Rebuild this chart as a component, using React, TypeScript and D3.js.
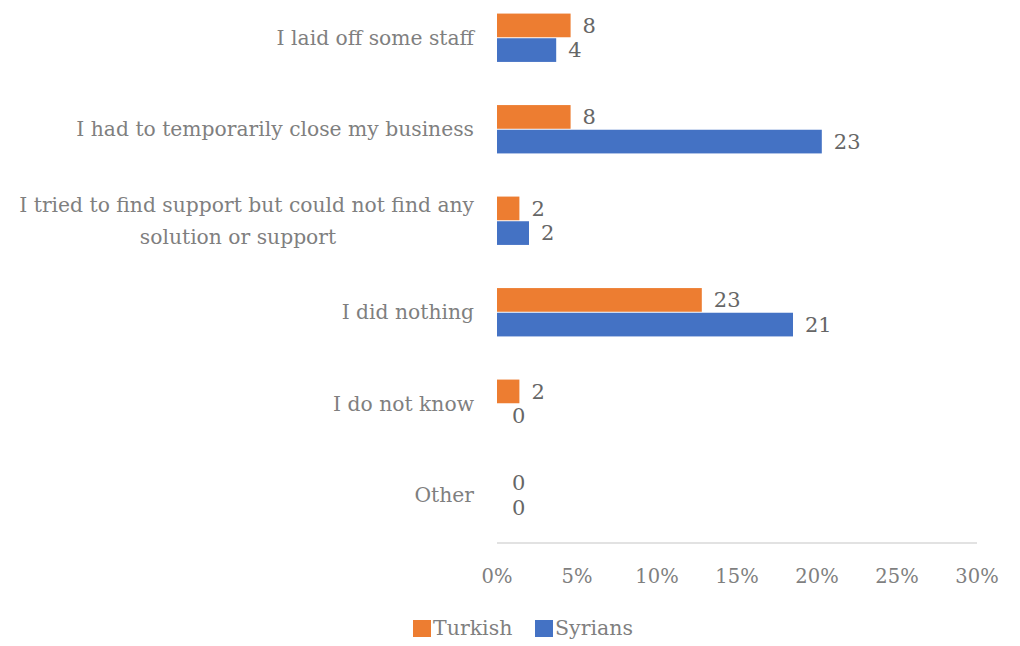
import React from "react";
import * as d3 from "d3";

const categories = [
  ["I laid off some staff"],
  ["I had to temporarily close my business"],
  ["I tried to find support but could not find any", "solution or support"],
  ["I did nothing"],
  ["I do not know"],
  ["Other"],
];
const seriesNames = ["Turkish", "Syrians"];
const turkishPct = [4.6, 4.6, 1.4, 12.8, 1.4, 0];
const syriansPct = [3.7, 20.3, 2.0, 18.5, 0, 0];
const turkishLabels = ["8", "8", "2", "23", "2", "0"];
const syriansLabels = ["4", "23", "2", "21", "0", "0"];
const xTicks = [0, 5, 10, 15, 20, 25, 30];
const colors = ["#ED7D31", "#4472C4"];

const W = 1020;
const H = 646;
const FONT = "'DejaVu Serif', serif";

export default function App() {
  const x = d3.scaleLinear().domain([0, 30]).range([497, 977]);
  const keys = categories.map((_, i) => String(i));
  const y0 = d3.scaleBand().domain(keys).range([-8, 541]).paddingInner(0.45).paddingOuter(0.225);
  const y1 = d3.scaleBand().domain(seriesNames).range([0, y0.bandwidth()]).padding(0.04);
  const vals = [turkishPct, syriansPct];
  const labs = [turkishLabels, syriansLabels];

  return (
    <svg width={W} height={H} style={{ position: "absolute", left: 0, top: 0, background: "#fff" }}>
      {keys.map((k, i) => {
        const cy = (y0(k) as number) + y0.bandwidth() / 2;
        const lines = categories[i];
        const lh = 32;
        return (
          <text key={"c" + k} fill="#7f7f7f" fontFamily={FONT} fontSize={20.3}>
            {lines.map((ln, j) => (
              <tspan key={j}
                x={lines.length > 1 && j === 1 ? 238 : 474}
                textAnchor={lines.length > 1 && j === 1 ? "middle" : "end"}
                y={cy + (j - (lines.length - 1) / 2) * lh} dy="0.35em">
                {ln}
              </tspan>
            ))}
          </text>
        );
      })}
      {seriesNames.map((s, si) =>
        keys.map((k, i) => {
          const by = (y0(k) as number) + (y1(s) as number);
          const v = vals[si][i];
          return (
            <g key={s + k}>
              {v > 0 && (
                <rect x={x(0)} y={by} width={x(v) - x(0)} height={y1.bandwidth()} fill={colors[si]} />
              )}
              <text x={x(v) + (v > 0 ? 12 : 15)} y={by + y1.bandwidth() / 2} dy="0.35em" fill="#666666"
                fontFamily={FONT} fontSize={21}>
                {labs[si][i]}
              </text>
            </g>
          );
        })
      )}
      <line x1={x(0)} x2={x(30)} y1={543} y2={543} stroke="#d9d9d9" strokeWidth={1.5} />
      {xTicks.map((t) => (
        <text key={"t" + t} x={x(t)} y={576} dy="0.35em" textAnchor="middle" fill="#7f7f7f" fontFamily={FONT} fontSize={19.5}>
          {t + "%"}
        </text>
      ))}
      {seriesNames.map((s, si) => {
        const lx = [413, 535][si];
        return (
          <g key={"l" + s}>
            <rect x={lx} y={620} width={18} height={17} fill={colors[si]} />
            <text x={lx + 20} y={628} dy="0.35em" fill="#7f7f7f" fontFamily={FONT} fontSize={20.5}>
              {s}
            </text>
          </g>
        );
      })}
    </svg>
  );
}
